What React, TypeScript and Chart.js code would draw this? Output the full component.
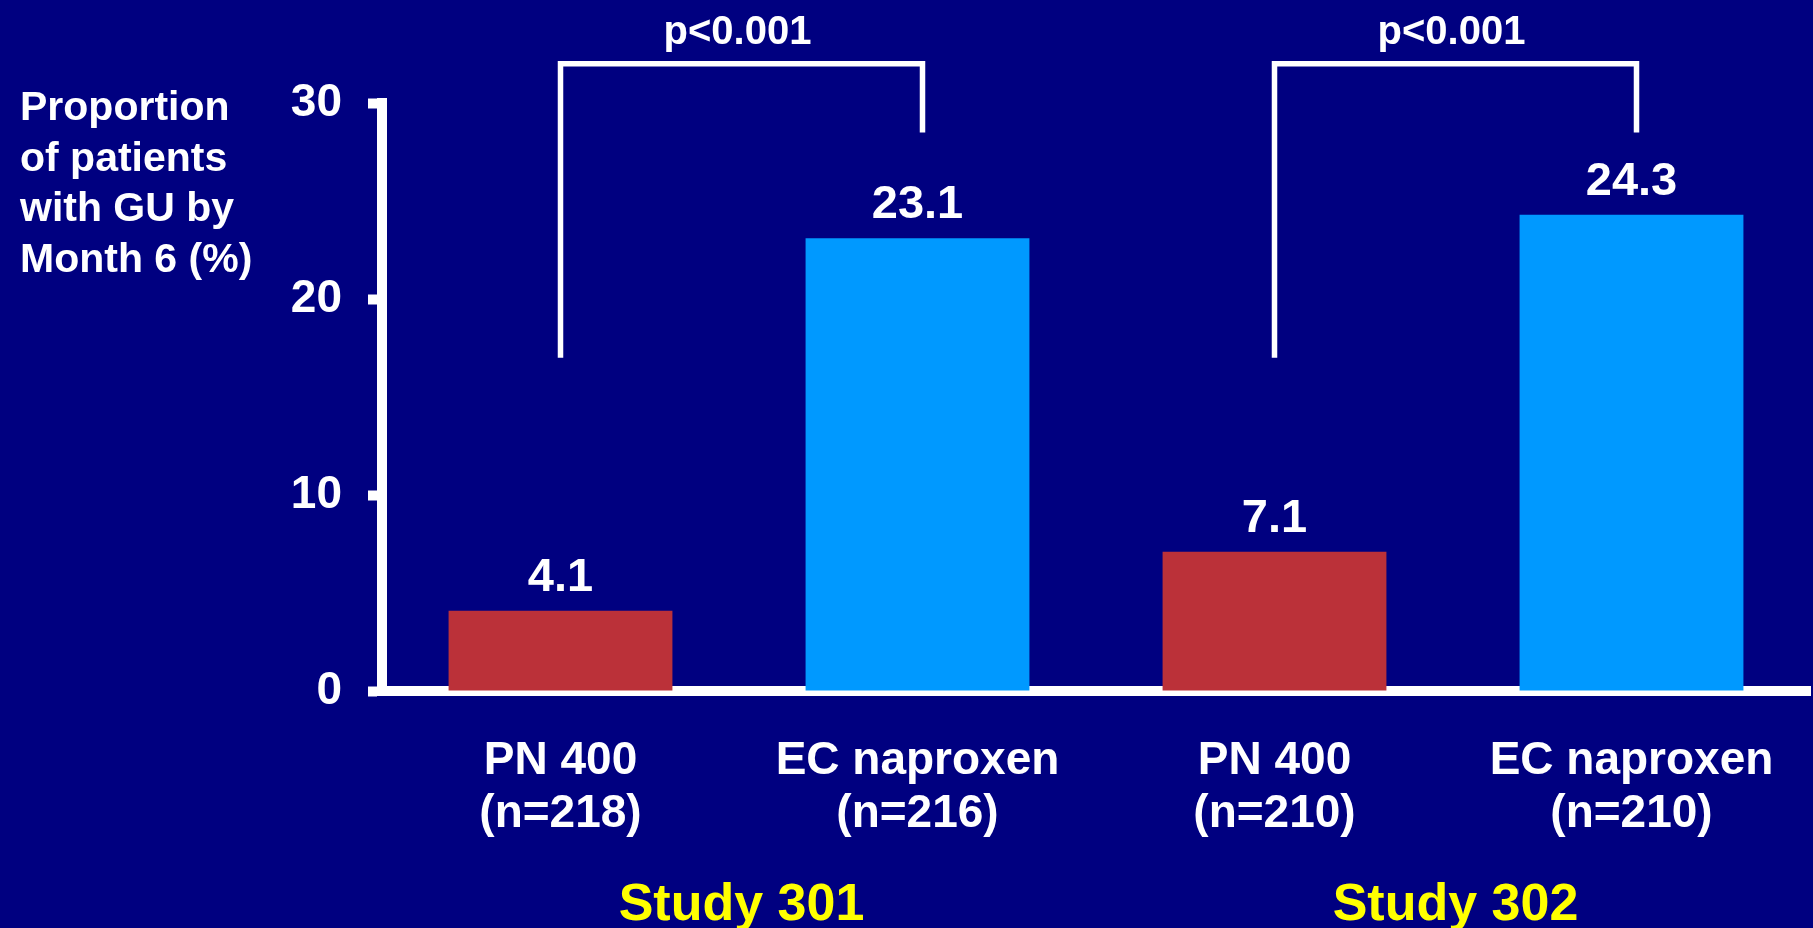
import { useEffect, useRef } from "react";
import { Chart, registerables } from "chart.js";

Chart.register(...registerables);

// ---- data ----
const treatments = ["PN 400", "EC naproxen", "PN 400", "EC naproxen"];
const sampleSizes = [218, 216, 210, 210];
const guRates = [4.1, 23.1, 7.1, 24.3];
const barColors = ["#BB3139", "#0099FF", "#BB3139", "#0099FF"];
const studies = ["Study 301", "Study 302"];
const pValues = ["p<0.001", "p<0.001"];
const yTicks = [0, 10, 20, 30];
const yTitleLines = ["Proportion", "of patients", "with GU by", "Month 6 (%)"];

// bracket geometry in value units (top bar, left leg end, right leg end)
const bracketTop = 32.0;
const bracketLeftEnd = 17.0;
const bracketRightEnd = 28.5;

const FONT = "'Liberation Sans', Arial, sans-serif";
const W = 1813;
const H = 928;

const labels = treatments.map((t, i) => [t, `(n=${sampleSizes[i]})`]);

const overlay = {
  id: "overlay",
  afterDatasetsDraw(chart: any) {
    const { ctx } = chart;
    const y = chart.scales.y;
    const meta = chart.getDatasetMeta(0);
    ctx.save();

    // y-axis title, left aligned block
    ctx.fillStyle = "#ffffff";
    ctx.font = `bold 41px ${FONT}`;
    ctx.textAlign = "left";
    ctx.textBaseline = "alphabetic";
    yTitleLines.forEach((line, i) => ctx.fillText(line, 20, 120 + i * 50.5));

    // values above bars
    ctx.textAlign = "center";
    ctx.font = `bold 47px ${FONT}`;
    meta.data.forEach((bar: any, i: number) => {
      ctx.fillText(guRates[i].toFixed(1), bar.x, bar.y - 20);
    });

    // significance brackets and study labels
    studies.forEach((study, k) => {
      const xl = meta.data[2 * k].x;
      const xr = meta.data[2 * k + 1].x + 5;
      const yt = y.getPixelForValue(bracketTop);
      const yl = y.getPixelForValue(bracketLeftEnd);
      const yr = y.getPixelForValue(bracketRightEnd);
      ctx.strokeStyle = "#ffffff";
      ctx.lineWidth = 5.5;
      ctx.lineCap = "butt";
      ctx.lineJoin = "miter";
      ctx.beginPath();
      ctx.moveTo(xl, yl);
      ctx.lineTo(xl, yt);
      ctx.lineTo(xr, yt);
      ctx.lineTo(xr, yr);
      ctx.stroke();

      ctx.fillStyle = "#ffffff";
      ctx.font = `bold 40px ${FONT}`;
      ctx.fillText(pValues[k], (xl + xr) / 2 - 4, yt - 20);

      ctx.fillStyle = "#FFFF00";
      ctx.font = `bold 52px ${FONT}`;
      ctx.fillText(study, (xl + xr) / 2, chart.height - 8);
    });

    ctx.restore();
  },
};

export default function App() {
  const ref = useRef<HTMLCanvasElement | null>(null);

  useEffect(() => {
    if (!ref.current) return;
    const chart = new Chart(ref.current, {
      type: "bar",
      data: {
        labels,
        datasets: [
          {
            data: guRates,
            backgroundColor: barColors,
            borderWidth: 0,
            categoryPercentage: 1,
            barPercentage: 0.627,
          },
        ],
      },
      options: {
        responsive: false,
        animation: false,
        devicePixelRatio: 1,
        layout: { padding: { left: 0, right: 3, top: 103, bottom: 0 } },
        plugins: {
          legend: { display: false },
          tooltip: { enabled: false },
          title: { display: false },
        },
        scales: {
          x: {
            type: "category",
            offset: true,
            grid: { display: false, drawTicks: false },
            border: { display: true, color: "#ffffff", width: 10 },
            ticks: {
              color: "#ffffff",
              font: { family: FONT, size: 46, weight: "bold", lineHeight: 1.17 },
              padding: 43,
              maxRotation: 0,
              autoSkip: false,
            },
            afterFit: (s: any) => {
              s.height = 237;
              s.paddingLeft = 0;
              s.paddingRight = 0;
            },
          },
          y: {
            min: 0,
            max: 30,
            afterBuildTicks: (s: any) => {
              s.ticks = yTicks.map((v) => ({ value: v }));
            },
            grid: {
              display: true,
              drawOnChartArea: false,
              drawTicks: true,
              tickLength: 14,
              tickWidth: 10,
              tickColor: "#ffffff",
            },
            border: { display: true, color: "#ffffff", width: 10 },
            ticks: {
              color: "#ffffff",
              font: { family: FONT, size: 46, weight: "bold" },
              padding: 26,
            },
            afterFit: (s: any) => {
              s.width = 382;
            },
          },
        },
      },
      plugins: [overlay],
    });
    return () => chart.destroy();
  }, []);

  return (
    <div
      style={{
        position: "fixed",
        left: 0,
        top: 0,
        width: W,
        height: H,
        background: "#000080",
      }}
    >
      <canvas ref={ref} width={W} height={H} style={{ display: "block" }} />
    </div>
  );
}
